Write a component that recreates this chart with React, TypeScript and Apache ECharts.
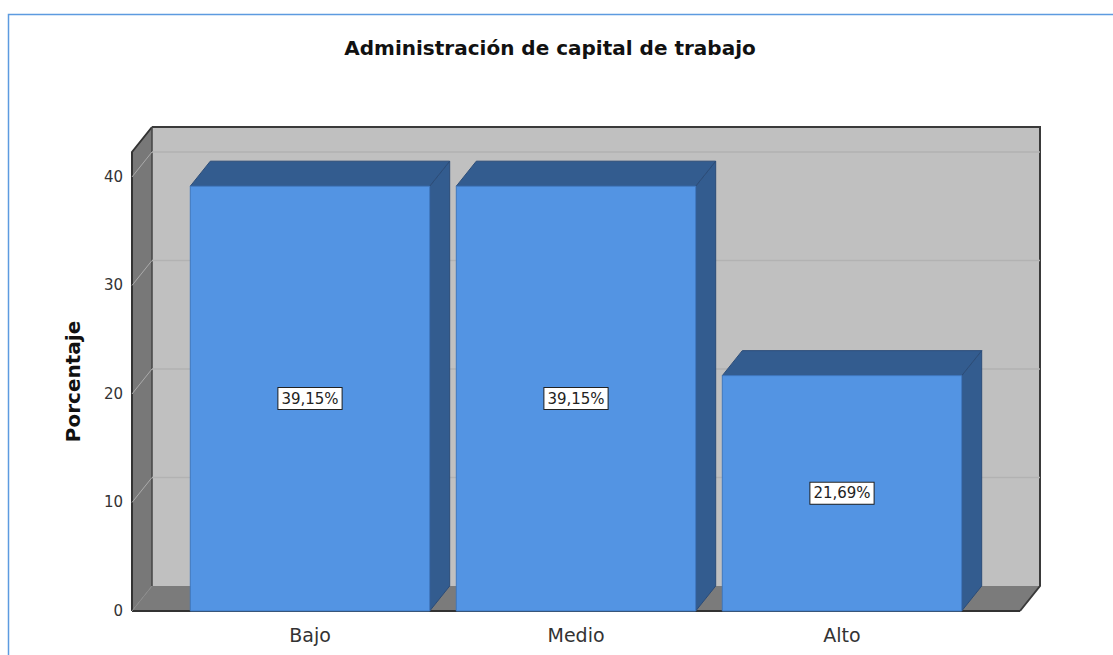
import React, { useEffect, useRef } from "react";
import * as echarts from "echarts";

const categories = ["Bajo", "Medio", "Alto"];
const percentages = [39.15, 39.15, 21.69];
const gridTicks = [10, 20, 30, 40];
const Y_MAX = 42.3;
const TITLE = "Administración de capital de trabajo";
const Y_NAME = "Porcentaje";

// layout (front plane grid + 3D depth)
const GRID_LEFT = 177;
const GRID_TOP = 152;
const GRID_W = 798;
const GRID_H = 459;
const DX = 20;
const DY = 25;
const PAD = 45;
const FONT = "DejaVu Sans";

export default function App() {
  const ref = useRef<HTMLDivElement>(null);
  useEffect(() => {
    document.body.style.margin = "0";
    const chart = echarts.init(ref.current!, null, { renderer: "svg" });
    const fl = GRID_LEFT - PAD; // front left
    const fr = GRID_LEFT + GRID_W + PAD; // front right
    const ft = GRID_TOP;
    const fb = GRID_TOP + GRID_H;
    const fmt = (v: number) => v.toFixed(2).replace(".", ",") + "%";

    chart.setOption({
      animation: false,
      title: {
        text: TITLE,
        left: 545,
        top: 33,
        textAlign: "center",
        textStyle: { fontFamily: FONT, fontWeight: "bold", fontSize: 20, color: "#111" },
      },
      grid: { left: GRID_LEFT, top: GRID_TOP, width: GRID_W, height: GRID_H },
      xAxis: {
        type: "category",
        data: categories,
        axisLine: { show: false },
        axisTick: { show: false },
        axisLabel: { fontFamily: FONT, fontSize: 19, color: "#333", margin: 14 },
      },
      yAxis: {
        type: "value",
        min: 0,
        max: Y_MAX,
        interval: 10,
        name: Y_NAME,
        nameLocation: "middle",
        nameGap: 94,
        nameTextStyle: { fontFamily: FONT, fontWeight: "bold", fontSize: 20, color: "#111" },
        splitLine: { show: false },
        axisLine: { show: false },
        axisTick: { show: false },
        axisLabel: {
          fontFamily: FONT,
          fontSize: 15,
          color: "#333",
          margin: 54,
          showMaxLabel: false,
          formatter: (v: number) => (v % 10 === 0 ? String(v) : ""),
        },
      },
      graphic: [
        {
          type: "rect",
          z: -10,
          shape: { x: 8.5, y: 14.5, width: 1200, height: 700 },
          style: { fill: "none", stroke: "#5d9be0", lineWidth: 1.5 },
        },
        {
          type: "polygon",
          z: -10,
          shape: { points: [[fl + DX, ft - DY], [fr + DX, ft - DY], [fr + DX, fb - DY], [fl + DX, fb - DY]] },
          style: { fill: "#c0c0c0" },
        },
        {
          type: "polygon",
          z: -10,
          shape: { points: [[fl, ft], [fl + DX, ft - DY], [fl + DX, fb - DY], [fl, fb]] },
          style: { fill: "#787878" },
        },
        {
          type: "polygon",
          z: -10,
          shape: { points: [[fl, fb], [fl + DX, fb - DY], [fr + DX, fb - DY], [fr, fb]] },
          style: { fill: "#7b7b7b" },
        },
        {
          type: "polyline",
          z: -9,
          shape: { points: [[fl + DX, ft - DY], [fr + DX, ft - DY], [fr + DX, fb - DY], [fr, fb]] },
          style: { fill: "none", stroke: "#3a3a3a", lineWidth: 2 },
        },
        {
          type: "polyline",
          z: -9,
          shape: { points: [[fl, fb], [fl, ft], [fl + DX, ft - DY]] },
          style: { fill: "none", stroke: "#333", lineWidth: 2 },
        },
        {
          type: "line",
          z: -9,
          shape: { x1: fl + DX, y1: ft - DY, x2: fl + DX, y2: fb - DY },
          style: { stroke: "#444", lineWidth: 1.5 },
        },
        {
          type: "line",
          z: -9,
          shape: { x1: fl, y1: fb, x2: fr, y2: fb },
          style: { stroke: "#333", lineWidth: 2 },
        },
        {
          type: "line",
          z: -9,
          shape: { x1: fl, y1: fb, x2: fl + DX, y2: fb - DY },
          style: { stroke: "#8a8a8a", lineWidth: 1 },
        },
      ],
      series: [
        {
          type: "custom",
          z: 1,
          silent: true,
          data: gridTicks.map((v) => [0, v]),
          renderItem: (params: any, api: any) => {
            const cs = params.coordSys;
            const y = api.coord([0, api.value(1)])[1];
            const l = cs.x - PAD;
            const r = cs.x + cs.width + PAD;
            return {
              type: "group",
              children: [
                {
                  type: "line",
                  shape: { x1: l, y1: y, x2: l + DX, y2: y - DY },
                  style: { stroke: "#ababab", lineWidth: 1 },
                },
                {
                  type: "line",
                  shape: { x1: l + DX, y1: y - DY, x2: r + DX, y2: y - DY },
                  style: { stroke: "#b2b2b2", lineWidth: 1.5 },
                },
              ],
            };
          },
        },
        {
          type: "custom",
          z: 3,
          data: percentages.map((v, i) => [i, v]),
          renderItem: (params: any, api: any) => {
            const i = api.value(0);
            const v = api.value(1);
            const [cx, yt] = api.coord([i, v]);
            const y0 = api.coord([i, 0])[1];
            const w = api.size([1, 0])[0] * 0.9;
            const x0 = cx - w / 2;
            const x1 = cx + w / 2;
            const edge = "#2b4c78";
            return {
              type: "group",
              children: [
                {
                  type: "polygon",
                  shape: { points: [[x1, yt], [x1 + DX, yt - DY], [x1 + DX, y0 - DY], [x1, y0]] },
                  style: { fill: "#335c8f", stroke: edge, lineWidth: 1 },
                },
                {
                  type: "polygon",
                  shape: { points: [[x0, yt], [x0 + DX, yt - DY], [x1 + DX, yt - DY], [x1, yt]] },
                  style: { fill: "#335c8f", stroke: edge, lineWidth: 1 },
                },
                {
                  type: "rect",
                  shape: { x: x0, y: yt, width: w, height: y0 - yt },
                  style: { fill: "#5394e3", stroke: "#3f78c0", lineWidth: 1 },
                },
                {
                  type: "text",
                  x: cx,
                  y: (yt + y0) / 2,
                  style: {
                    text: fmt(v),
                    align: "center",
                    verticalAlign: "middle",
                    fontFamily: FONT,
                    fontSize: 15,
                    fill: "#222",
                    backgroundColor: "#fff",
                    borderColor: "#222",
                    borderWidth: 1,
                    padding: [3, 3, 3, 3],
                  },
                },
              ],
            };
          },
        },
      ],
    });
    return () => chart.dispose();
  }, []);
  return <div ref={ref} style={{ width: 1113, height: 655 }} />;
}
